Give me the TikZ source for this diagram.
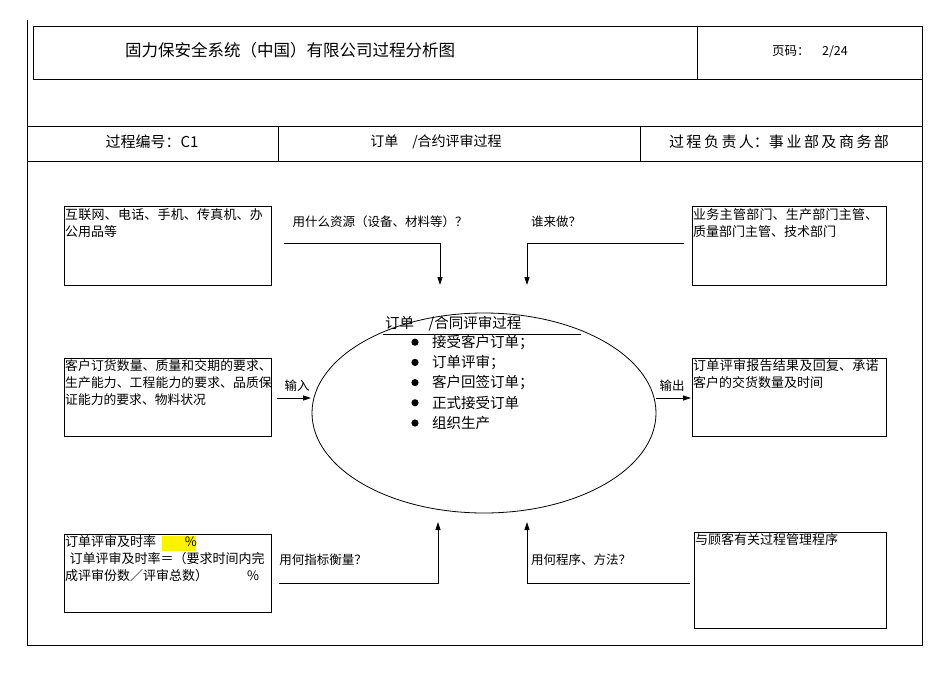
\documentclass[tikz,border=0pt]{standalone}
\usepackage{fontspec}
\setmainfont{Liberation Serif}
\newfontfamily\cjk{Noto Sans CJK SC}
\XeTeXlinebreaklocale "zh"
\XeTeXlinebreakskip=0pt plus 1pt
\usetikzlibrary{arrows.meta}
\tikzset{
  bx/.style={draw,line width=0.8pt},
  tx/.style={font=\cjk\fontsize{13}{17}\selectfont,inner sep=0pt,anchor=north west,align=left},
  lb/.style={font=\cjk\fontsize{12.5}{15}\selectfont,inner sep=1pt},
  ar/.style={line width=0.8pt,-{Triangle[length=8pt,width=5pt]}},
  ln/.style={line width=0.6pt}
}
\begin{document}
\begin{tikzpicture}[x=1pt,y=-1pt]
\useasboundingbox (0,0) rectangle (950,672);
\draw[ln] (27,20) -- (27,645) -- (922,645) -- (922,79);
\draw[bx] (33,26) rectangle (922,79);
\draw[ln] (697,26) -- (697,79);
\node[lb,font=\cjk\fontsize{16.5}{18}\selectfont] (title) at (290,50) {固力保安全系统（中国）有限公司过程分析图};
\node[lb] (page) at (810,52) {页码：\quad 2/24};
\draw[bx] (27,126) rectangle (922,161);
\draw[ln] (278,126) -- (278,161) (640,126) -- (640,161);
\node[lb,font=\cjk\fontsize{15}{17}\selectfont] (code) at (152,142) {过程编号：C1};
\node[lb,font=\cjk\fontsize{14}{16}\selectfont] (name) at (436,142) {订单\quad /合约评审过程};
\node[lb,font=\cjk\fontsize{15}{17}\selectfont] (owner) at (779,142) {过\,程\,负\,责\,人：事\,业\,部\,及\,商\,务\,部};

\draw[bx] (64,206) rectangle (271,285);
\node[tx,text width=205pt] (tl) at (65,208) {互联网、电话、手机、传真机、办公用品等};
\draw[bx] (692,206) rectangle (886,285);
\node[tx,text width=192pt] (tr) at (693,208) {业务主管部门、生产部门主管、质量部门主管、技术部门};
\draw[bx] (64,358) rectangle (271,436);
\node[tx,text width=210pt,font=\cjk\fontsize{12.8}{17}\selectfont] (ml) at (65,359) {客户订货数量、质量和交期的要求、生产能力、工程能力的要求、品质保证能力的要求、物料状况};
\draw[bx] (692,358) rectangle (886,436);
\node[tx,text width=193pt] (mr) at (693,359) {订单评审报告结果及回复、承诺客户的交货数量及时间};
\draw[bx] (64,534) rectangle (271,612);
\fill[yellow] (162,536) rectangle (196,551);
\node[tx,text width=215pt] (bl) at (65,535) {订单评审及时率\hspace{2.2em}\%\\\ 订单评审及时率＝（要求时间内完\\成评审份数／评审总数）\hspace{3em}\%};
\draw[bx] (694,532) rectangle (886,628);
\node[tx] (br) at (695,533) {与顾客有关过程管理程序};

\draw[line width=0.8pt] (484,413) ellipse [x radius=172, y radius=100];
\node[tx,font=\cjk\fontsize{14.5}{16}\selectfont] (et) at (385,316) {订单\quad /合同评审过程};
\draw[ln] (383,334) -- (581,334);
\foreach \t [count=\i] in {接受客户订单；,订单评审；,客户回签订单；,正式接受订单,组织生产}{
  \fill (415,{322+\i*20.2}) circle (3.6);
  \node[tx,font=\cjk\fontsize{14.5}{16}\selectfont,anchor=west] at (432,{322+\i*20.2}) {\t};
}
\coordinate (a1) at (284,243); \coordinate (a1b) at (440,243); \coordinate (a1e) at (440,285);
\draw[ar] (a1) -- (a1b) -- (a1e);
\coordinate (a2) at (684,243); \coordinate (a2b) at (527,243); \coordinate (a2e) at (527,285);
\draw[ar] (a2) -- (a2b) -- (a2e);
\coordinate (a3) at (279,583); \coordinate (a3b) at (438,583); \coordinate (a3e) at (438,522);
\draw[ar] (a3) -- (a3b) -- (a3e);
\coordinate (a4) at (690,583); \coordinate (a4b) at (527,583); \coordinate (a4e) at (527,522);
\draw[ar] (a4) -- (a4b) -- (a4e);
\coordinate (i1) at (277,398); \coordinate (i2) at (311,398);
\draw[ar] (i1) -- (i2);
\coordinate (o1) at (656,398); \coordinate (o2) at (691,398);
\draw[ar] (o1) -- (o2);
\node[lb] (inp) at (297,386) {输入};
\node[lb] (outp) at (672,386) {输出};
\node[lb] (q1) at (380,222) {用什么资源（设备、材料等）？};
\node[lb] (q2) at (556,222) {谁来做？};
\node[lb] (q3) at (323,560) {用何指标衡量？};
\node[lb] (q4) at (581,560) {用何程序、方法？};
\end{tikzpicture}
\end{document}
